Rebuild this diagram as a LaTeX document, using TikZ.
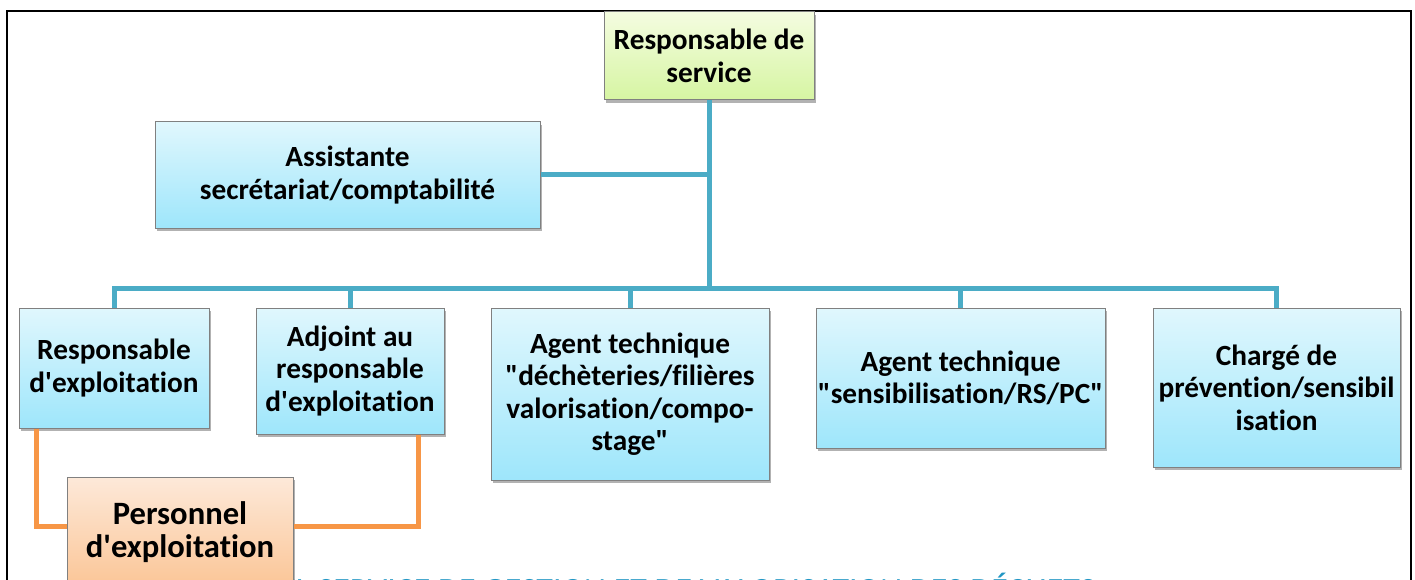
\documentclass[tikz,border=0pt]{standalone}
\usepackage{fontspec}
\newfontfamily\cf{Carlito}[Ligatures=NoCommon]
\usetikzlibrary{shadows,calc}
\definecolor{bluel}{RGB}{75,172,198}
\definecolor{orangel}{RGB}{247,150,70}
\definecolor{bluetop}{RGB}{224,247,253}
\definecolor{bluebot}{RGB}{158,230,251}
\definecolor{greentop}{RGB}{244,252,224}
\definecolor{greenbot}{RGB}{214,245,162}
\definecolor{orangetop}{RGB}{253,233,217}
\definecolor{orangebot}{RGB}{251,197,150}
\definecolor{titlecol}{RGB}{33,150,196}
\definecolor{boxborder}{RGB}{128,128,128}
\tikzset{
  box/.style={rectangle, draw=boxborder, line width=1pt, align=center, inner sep=0pt,
    font=\cf\bfseries\fontsize{29.3}{32.5}\selectfont,
    drop shadow={shadow xshift=2pt, shadow yshift=-3pt, fill=black, opacity=0.3}},
  bluebox/.style={box, top color=bluetop, bottom color=bluebot},
  greenbox/.style={box, top color=greentop, bottom color=greenbot},
  orangebox/.style={box, top color=orangetop, bottom color=orangebot, font=\cf\bfseries\fontsize{32.6}{33}\selectfont},
  blueline/.style={draw=bluel, line width=5pt},
  orangeline/.style={draw=orangel, line width=5pt},
  frame/.style={draw=black, line width=1.5pt}
}
\begin{document}
\begin{tikzpicture}[x=1pt,y=-1pt]
\useasboundingbox (0,0) rectangle (1415,580);
\clip (0,0) rectangle (1415,580);
\fill[white] (0,0) rectangle (1415,580);
\draw[frame] (7,600) -- (7,11) -- (1411,11) -- (1411,600);
% title (cut by the page, as in the reference)
\node[anchor=base west, inner sep=0pt, text=titlecol, font=\cf\fontsize{34}{36}\selectfont] (title) at (279,601.5) {EL SERVICE DE GESTION ET DE VALORISATION DES DÉCHETS};
% nodes
\node[greenbox, minimum width=210pt, minimum height=88pt] (rds) at (709,56) {Responsable de\\service};
\node[bluebox, minimum width=385pt, minimum height=106pt] (asst) at (347.5,175) {Assistante\\secrétariat/comptabilité};
\node[bluebox, minimum width=190pt, minimum height=120pt] (re) at (114,368) {Responsable\\d'exploitation};
\node[bluebox, minimum width=188pt, minimum height=126pt] (adj) at (350,371) {Adjoint au\\responsable\\d'exploitation};
\node[bluebox, minimum width=278pt, minimum height=172pt] (at1) at (630,394) {Agent technique\\"déchèteries/filières\\valorisation/compo-\\stage"};
\node[bluebox, minimum width=289pt, minimum height=140pt] (at2) at (960.5,378) {Agent technique\\"sensibilisation/RS/PC"};
\node[bluebox, minimum width=247pt, minimum height=159pt] (ch) at (1276.5,387.5) {Chargé de\\prévention/sensibil\\isation};
\coordinate (bj) at (709,288);
% connectors
\draw[blueline] (rds.south) -- (bj);
\draw[blueline] (asst.east) -- (asst.east -| bj);
\draw[blueline] (re.north) |- (bj);
\draw[blueline] (adj.north) |- (bj);
\draw[blueline] (at1.north) |- (bj);
\draw[blueline] (at2.north) |- (bj);
\draw[blueline] (ch.north) |- (bj);
\node[orangebox, minimum width=226pt, minimum height=111pt] (pers) at (180,532.5) {Personnel\\d'exploitation};
\draw[orangeline] ([xshift=18pt]re.south west) |- ([yshift=6.5pt]pers.west);
\draw[orangeline] ([xshift=-26pt]adj.south east) |- ([yshift=6.5pt]pers.east);
\end{tikzpicture}
\end{document}
